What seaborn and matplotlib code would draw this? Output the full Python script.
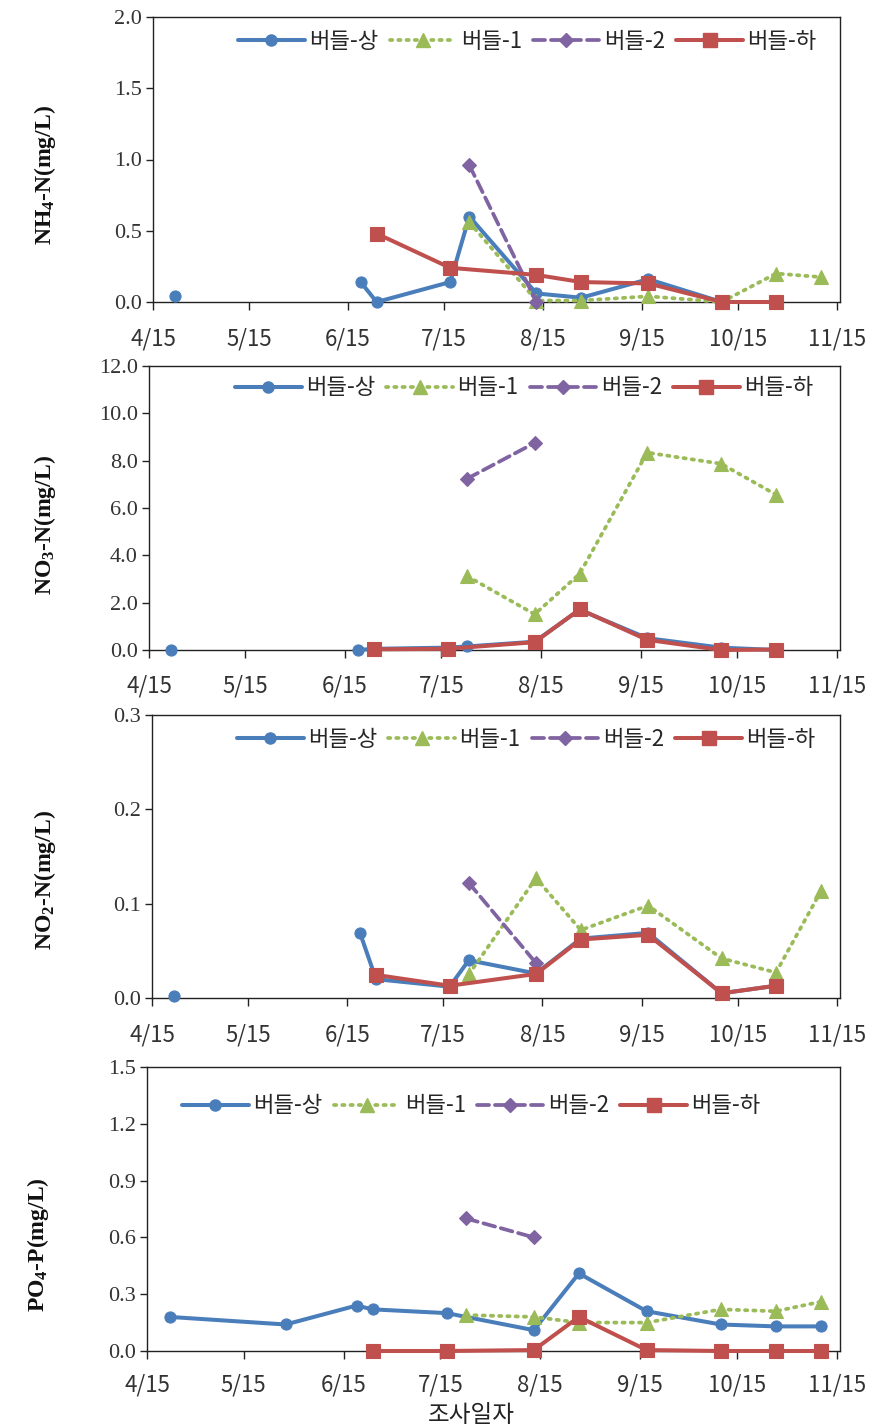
import numpy as np
import pandas as pd
import matplotlib
matplotlib.use("Agg")
import matplotlib.pyplot as plt
import matplotlib.ticker as mticker
import matplotlib.dates as mdates
from matplotlib.lines import Line2D
import seaborn as sns

sns.set_theme(style="white")
plt.rcParams["font.family"] = ["Noto Sans CJK KR", "DejaVu Sans"]
plt.rcParams["mathtext.fontset"] = "custom"
plt.rcParams["mathtext.rm"] = "Liberation Serif:bold"
plt.rcParams["mathtext.bf"] = "Liberation Serif:bold"
plt.rcParams["mathtext.default"] = "rm"

YEAR = 2010
sample_dates = ["4/22", "5/28", "6/19", "6/24", "7/17", "7/23", "8/13",
                "8/27", "9/17", "10/10", "10/27", "11/10"]
tick_dates = ["4/15", "5/15", "6/15", "7/15", "8/15", "9/15", "10/15", "11/15"]
series_names = ["버들-상", "버들-1", "버들-2", "버들-하"]
NA = np.nan  # measured but missing -> gap in the line; None -> not sampled

# NH4-N (mg/L)
nh4_sang = [0.04, NA, 0.14, 0.0, 0.14, 0.60, 0.06, 0.03, 0.16, 0.0, 0.0, None]
nh4_1 = [None, None, None, None, None, 0.56, 0.01, 0.01, 0.04, 0.0, 0.20, 0.175]
nh4_2 = [None, None, None, None, None, 0.96, 0.0, None, None, None, None, None]
nh4_ha = [None, None, None, 0.48, 0.24, None, 0.19, 0.14, 0.13, 0.0, 0.0, None]

# NO3-N (mg/L)
no3_sang = [0.0, NA, 0.0, 0.05, 0.10, 0.15, 0.35, 1.70, 0.50, 0.10, 0.0, None]
no3_1 = [None, None, None, None, None, 3.12, 1.51, 3.22, 8.34, 7.87, 6.57, None]
no3_2 = [None, None, None, None, None, 7.24, 8.75, None, None, None, None, None]
no3_ha = [None, None, None, 0.03, 0.05, None, 0.33, 1.72, 0.43, 0.0, 0.02, None]

# NO2-N (mg/L)
no2_sang = [0.002, NA, 0.069, 0.020, 0.012, 0.040, 0.026, 0.063, 0.069, 0.005, 0.013, None]
no2_1 = [None, None, None, None, None, 0.025, 0.127, 0.072, 0.098, 0.042, 0.027, 0.113]
no2_2 = [None, None, None, None, None, 0.122, 0.037, None, None, None, None, None]
no2_ha = [None, None, None, 0.0245, 0.013, None, 0.0255, 0.062, 0.067, 0.005, 0.013, None]

# PO4-P (mg/L)
po4_sang = [0.18, 0.14, 0.24, 0.22, 0.20, None, 0.11, 0.41, 0.21, 0.14, 0.13, 0.13]
po4_1 = [None, None, None, None, None, 0.19, 0.18, 0.15, 0.15, 0.22, 0.21, 0.26]
po4_2 = [None, None, None, None, None, 0.70, 0.60, None, None, None, None, None]
po4_ha = [None, None, None, 0.0, 0.0, None, 0.005, 0.18, 0.005, 0.0, 0.0, 0.0]

y_labels = ["NH$_4$-N(mg/L)", "NO$_3$-N(mg/L)", "NO$_2$-N(mg/L)", "PO$_4$-P(mg/L)"]
y_max = [2.0, 12.0, 0.3, 1.5]
y_step = [0.5, 2.0, 0.1, 0.3]
x_label = "조사일자"

panels = [
    [nh4_sang, nh4_1, nh4_2, nh4_ha],
    [no3_sang, no3_1, no3_2, no3_ha],
    [no2_sang, no2_1, no2_2, no2_ha],
    [po4_sang, po4_1, po4_2, po4_ha],
]


def to_date(s):
    m, d = s.split("/")
    return pd.Timestamp(year=YEAR, month=int(m), day=int(d))


dates = [to_date(s) for s in sample_dates]
ticks = [to_date(s) for s in tick_dates]

# styles
colors = ["#4A7EBB", "#9BBB59", "#8064A2", "#C0504D"]
markers = ["o", "^", "D", "s"]
msizes = [8.0, 10.0, 7.5, 10.0]
lstyles = ["-", (0, (0.6, 1.6)), (0, (3.2, 1.6)), "-"]
lwidths = [2.9, 2.7, 2.7, 2.9]

W, H = 873, 1428
fig = plt.figure(figsize=(W / 100, H / 100), dpi=100)

# axes boxes in pixels (left, right, top, bottom)
boxes = [(153, 840, 17, 302), (149, 840, 366, 650), (152, 840, 715, 998), (147, 840, 1067, 1351)]
leg_pos = [(0.545, 0.915), (0.543, 0.923), (0.544, 0.915), (0.468, 0.863)]
ylab_pos = [(45, 175), (45, 525), (45, 880), (38, 1245)]
xpads = [12, 12, 12, 10]

for i, (vals, box) in enumerate(zip(panels, boxes)):
    l, r, t, b = box
    ax = fig.add_axes([l / W, 1 - b / H, (r - l) / W, (b - t) / H])
    for k in range(4):
        seg, segs = [], []
        for d, v in zip(dates, vals[k]):
            if v is None:
                continue
            if isinstance(v, float) and np.isnan(v):
                if seg:
                    segs.append(seg)
                seg = []
                continue
            seg.append((d, v))
        if seg:
            segs.append(seg)
        for j, sg in enumerate(segs):
            df = pd.DataFrame(sg, columns=["date", "value"])
            sns.lineplot(data=df, x="date", y="value", ax=ax, color=colors[k],
                         marker=markers[k], markersize=msizes[k],
                         markeredgecolor=colors[k], markeredgewidth=0.8,
                         linestyle=lstyles[k], linewidth=lwidths[k],
                         dash_capstyle="round", estimator=None, sort=False,
                         clip_on=False, zorder=3 + k, legend=False)
    ax.set_xlim(to_date("4/15"), to_date("11/16"))
    ax.set_ylim(0, y_max[i])
    ax.set_xticks(ticks)
    ax.xaxis.set_major_formatter(mticker.FuncFormatter(
        lambda x, p: f"{mdates.num2date(x).month}/{mdates.num2date(x).day}"))
    ax.yaxis.set_major_locator(mticker.MultipleLocator(y_step[i]))
    ax.yaxis.set_major_formatter(mticker.FormatStrFormatter("%.1f"))
    ax.set_xlabel("")
    ax.set_ylabel("")
    for sp in ax.spines.values():
        sp.set_color("#222222")
        sp.set_linewidth(1.0)
        sp.set_visible(True)
    ax.tick_params(axis="x", direction="out", length=6, width=1, pad=xpads[i],
                   colors="#222222", labelsize=16, bottom=True)
    ax.tick_params(axis="y", direction="out", length=5, width=1, pad=3,
                   colors="#222222", labelsize=16, left=True)
    for lab in ax.get_yticklabels():
        lab.set_fontfamily("Liberation Serif")
        lab.set_color("#333333")
    for lab in ax.get_xticklabels():
        lab.set_color("#333333")
    ax.grid(False)
    ax.set_facecolor("white")

    handles = [Line2D([], [], color=colors[k], marker=markers[k], markersize=msizes[k],
                      markeredgecolor=colors[k], linestyle=lstyles[k],
                      linewidth=lwidths[k], dash_capstyle="round")
               for k in range(4)]
    ax.legend(handles, series_names, loc="center", bbox_to_anchor=leg_pos[i],
              ncol=4, frameon=False, fontsize=16, handlelength=3.0,
              handletextpad=0.2, columnspacing=0.5, borderpad=0.2)

    fig.text(ylab_pos[i][0] / W, 1 - ylab_pos[i][1] / H, y_labels[i], rotation=90,
             ha="center", va="center", fontsize=17, fontweight="bold",
             family="Liberation Serif", color="#111111")

fig.text(471 / W, 1 - 1416 / H, x_label, ha="center", va="center", fontsize=17,
         color="#222222")

fig.savefig("out.png", dpi=100, facecolor="white")
